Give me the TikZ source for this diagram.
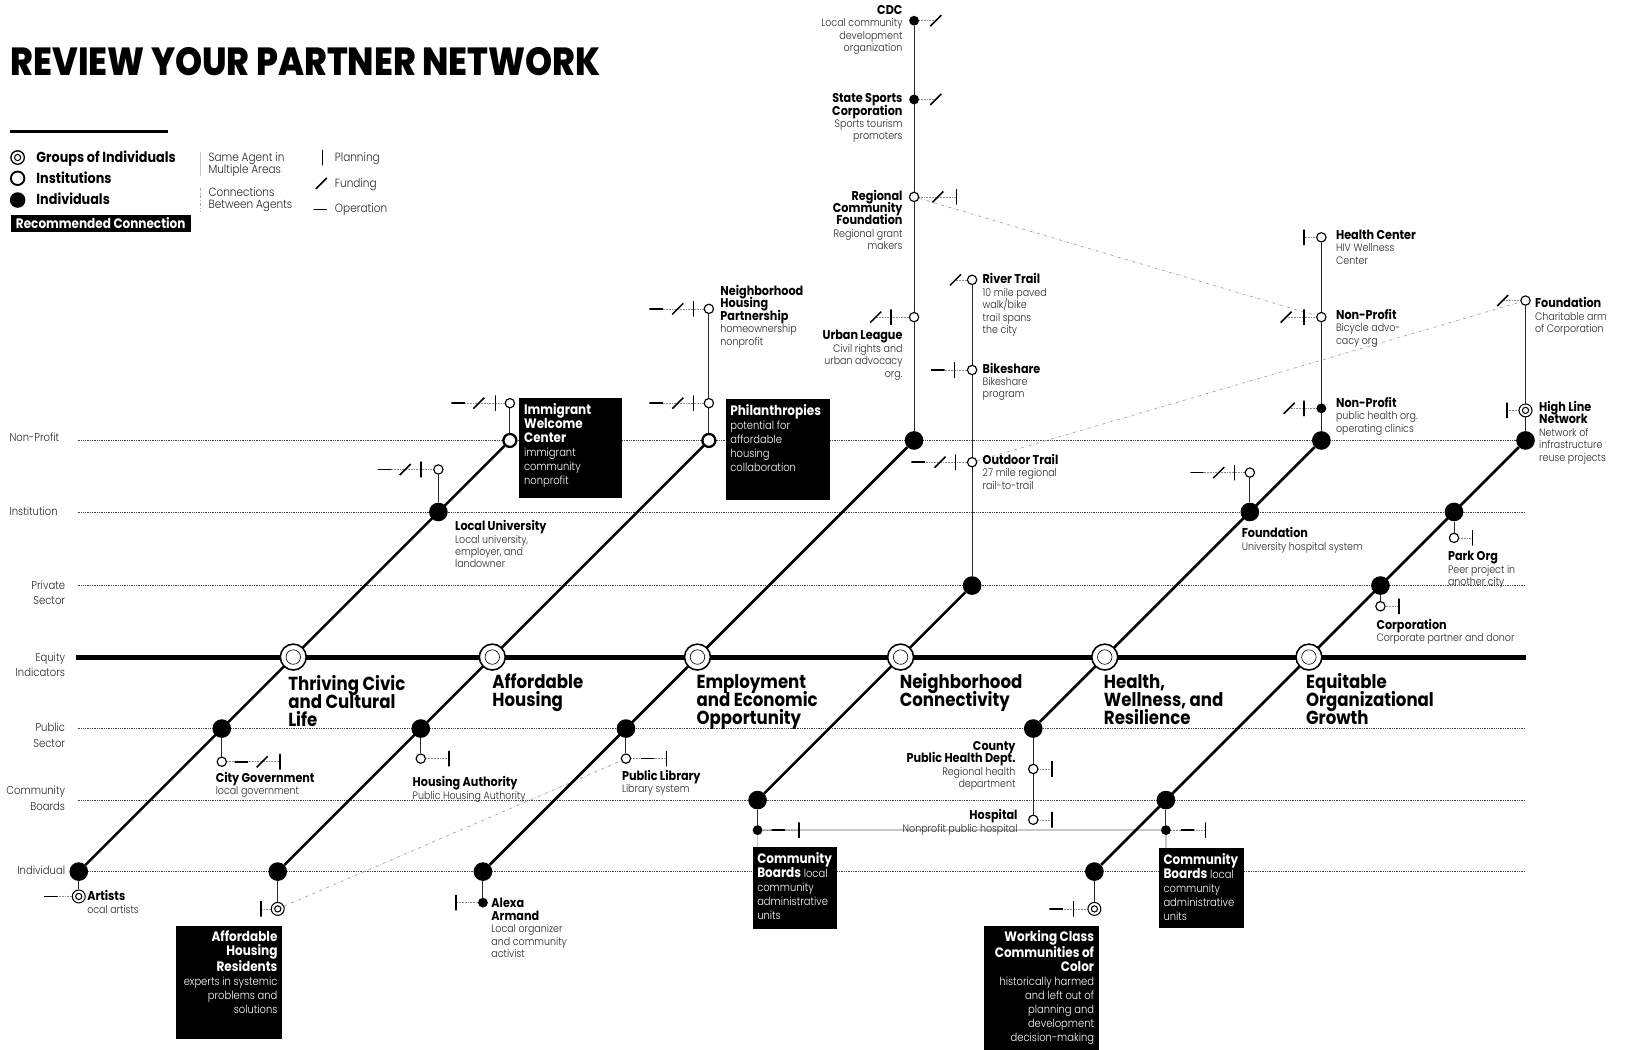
\documentclass[tikz,border=0pt]{standalone}
\usepackage{fontspec}
\IfFontExistsTF{Poppins Light}%          % graisse fine si disponible
  {\setmainfont{Poppins Light}[FakeStretch=0.88,BoldFont=Poppins Bold]}
  {\setmainfont{Poppins}[FakeStretch=0.88]}
\IfFontExistsTF{Poppins ExtraBold}%      % titre plus gras
  {\newfontfamily\titlefont{Poppins ExtraBold}[FakeStretch=0.88]}
  {\newcommand{\titlefont}{\bfseries}}
\usepackage{tikz}
\usetikzlibrary{calc,                      % Calculs de coordonnées
           positioning}
\pgfdeclarelayer{background}
\pgfsetlayers{background,main}
\setlength{\lineskiplimit}{-100pt}       % interlignage fixe

\newcommand{\desc}{\fontsize{10.4}{12}\selectfont\color{black!85}}
\newcommand{\nm}[1]{{\fontsize{12.3}{12}\selectfont\bfseries\color{black}#1}}
\newcommand{\hubfont}{\fontsize{18.2}{17.5}\selectfont\bfseries}
\newcommand{\rowfont}{\fontsize{11}{15}\selectfont}
\newcommand{\boxfont}{\fontsize{10.9}{13.5}\selectfont}
\newcommand{\bh}[1]{{\fontsize{13.2}{13.5}\selectfont\bfseries #1}}
\newcommand{\legfont}{\fontsize{11.5}{11.5}\selectfont\color{black!85}}

\tikzset{
  mainnode/.style={circle,fill=black,inner sep=0pt,minimum size=18pt},
  bigopen/.style={circle,draw=black,fill=white,line width=2.2pt,inner sep=0pt,minimum size=12.5pt},
  inst/.style={circle,draw=black,fill=white,line width=1.1pt,inner sep=0pt,minimum size=9pt},
  indiv/.style={circle,fill=black,inner sep=0pt,minimum size=9.5pt},
  grp/.style={circle,draw=black,fill=white,line width=1pt,inner sep=0pt,minimum size=12.5pt,
    path picture={\draw[line width=1pt] (path picture bounding box.center) circle (3pt);}},
  hub/.style={circle,draw=black,fill=white,line width=1.5pt,inner sep=0pt,minimum size=25pt,
    path picture={\draw[line width=0.6pt] (path picture bounding box.center) circle (7pt);}},
  plansign/.style={rectangle,draw=black,line width=1.5pt,inner sep=0pt,minimum width=0pt,minimum height=15pt},
  opsign/.style={rectangle,draw=black,line width=1.5pt,inner sep=0pt,minimum width=13pt,minimum height=0pt},
  fundsign/.style={opsign,minimum width=15pt,rotate=45},
  bone/.style={line width=2.5pt},
  stem/.style={line width=1pt,black!85},
  spine/.style={line width=4.8pt},
  rowline/.style={densely dotted,line width=0.7pt,black!75},
  tickline/.style={densely dotted,line width=0.5pt,black!45},
  link/.style={dash dot,line width=0.7pt,black!35},
  sameline/.style={line width=1.3pt,black!22},
  lbl/.style={inner sep=0pt,align=left,font=\desc},
  lblr/.style={inner sep=0pt,align=right,font=\desc},
  hubtxt/.style={inner sep=0pt,align=left,font=\hubfont},
  rowtxt/.style={inner sep=0pt,font=\rowfont,text=black!85},
  recbox/.style={fill=black,text=white,inner xsep=4.5pt,inner ysep=5pt,font=\boxfont},
}

\begin{document}
\begin{tikzpicture}[x=1pt,y=-1pt]
\useasboundingbox (0,0) rectangle (1568,1013);
\node[anchor=base west,inner sep=0pt,font=\fontsize{37.8}{37.8}\selectfont\titlefont] (title) at (10,73) {REVIEW YOUR PARTNER NETWORK};
\draw[line width=3.5pt] (10,127) -- (162,127);
\node[grp,minimum size=13pt,line width=1.3pt] (lgGrp) at (17,152) {};
\node[inst,minimum size=13pt,line width=1.8pt] (lgInst) at (17,172) {};
\node[mainnode,minimum size=15pt] (lgInd) at (17,193) {};
\node[anchor=base west,inner sep=0pt,font=\fontsize{14}{14}\selectfont\bfseries] (lgGrpT) at (35,157) {Groups of Individuals};
\node[anchor=base west,inner sep=0pt,font=\fontsize{14}{14}\selectfont\bfseries] (lgInstT) at (35,177) {Institutions};
\node[anchor=base west,inner sep=0pt,font=\fontsize{14}{14}\selectfont\bfseries] (lgIndT) at (35,197.5) {Individuals};
\node[recbox,anchor=west,minimum width=174pt,minimum height=17pt,inner ysep=0pt,font=\fontsize{13.2}{13.2}\selectfont\bfseries] (lgRec) at (10,215.5) {Recommended Connection};
\draw[sameline,line width=1pt] (193,147) -- (193,170);
\draw[link] (193,181) -- (193,204);
\node[lbl,anchor=base west,font=\legfont] (lgSame) at (201,167.5) {Same Agent in\\Multiple Areas};
\node[lbl,anchor=base west,font=\legfont] (lgConn) at (201,201.5) {Connections\\Between Agents};
\node[plansign] (lgPlan) at (311,152) {};
\node[fundsign] (lgFund) at (310,177) {};
\node[opsign] (lgOp) at (309,202) {};
\node[lbl,anchor=base west,font=\legfont] (lgPlanT) at (323,155.5) {Planning};
\node[lbl,anchor=base west,font=\legfont] (lgFundT) at (323,180.5) {Funding};
\node[lbl,anchor=base west,font=\legfont] (lgOpT) at (323,205.5) {Operation};

\node[rowtxt,anchor=base west] (rNp) at (9,426) {Non-Profit};
\node[rowtxt,anchor=base west] (rInst) at (9,497) {Institution};
\node[rowtxt,anchor=base east,align=right] (rPriv) at (63,583.5) {Private\\Sector};
\node[rowtxt,anchor=base east,align=right] (rEq) at (63,653) {Equity\\Indicators};
\node[rowtxt,anchor=base east,align=right] (rPub) at (63,721) {Public\\Sector};
\node[rowtxt,anchor=base east,align=right] (rCb) at (63,782) {Community\\Boards};
\node[rowtxt,anchor=base east] (rInd) at (63,844) {Individual};

\node[mainnode] (civInd) at (76,841) {};
\node[mainnode] (civPub) at (214,703) {};
\node[hub] (civHub) at (283,634) {};
\node[mainnode] (civInst) at (423,494) {};
\node[bigopen] (civNp) at (492,425) {};
\node[mainnode] (houInd) at (268,841) {};
\node[mainnode] (houPub) at (406,703) {};
\node[hub] (houHub) at (475,634) {};
\node[bigopen] (houNp) at (684,425) {};
\node[mainnode] (empInd) at (466,841) {};
\node[mainnode] (empPub) at (604,703) {};
\node[hub] (empHub) at (673,634) {};
\node[mainnode] (empNp) at (882,425) {};
\node[mainnode] (conCb) at (731,772) {};
\node[hub] (conHub) at (869,634) {};
\node[mainnode] (conPriv) at (938,565) {};
\node[mainnode] (heaPub) at (997,703) {};
\node[hub] (heaHub) at (1066,634) {};
\node[mainnode] (heaInst) at (1206,494) {};
\node[mainnode] (heaNp) at (1275,425) {};
\node[mainnode] (groInd) at (1056,841) {};
\node[mainnode] (groCb) at (1125,772) {};
\node[hub] (groHub) at (1263,634) {};
\node[mainnode] (groPriv) at (1332,565) {};
\node[mainnode] (groInst) at (1403,494) {};
\node[mainnode] (groNp) at (1472,425) {};

\node[hubtxt,anchor=base west] (civT) at (278,701) {Thriving Civic\\and Cultural\\Life};
\node[hubtxt,anchor=base west] (houT) at (475,681.5) {Affordable\\Housing};
\node[hubtxt,anchor=base west] (empT) at (672,699) {Employment\\and Economic\\Opportunity};
\node[hubtxt,anchor=base west] (conT) at (868,681.5) {Neighborhood\\Connectivity};
\node[hubtxt,anchor=base west] (heaT) at (1065,699) {Health,\\Wellness, and\\Resilience};
\node[hubtxt,anchor=base west] (groT) at (1260,699) {Equitable\\Organizational\\Growth};

\node[inst] (imm) at (492,389) {};
\node[inst] (univ) at (423,453) {};
\node[inst] (cityg) at (214,735) {};
\node[grp] (art) at (76,865) {};
\node[inst] (nhp) at (684,298) {};
\node[inst] (phil) at (684,389) {};
\node[inst] (hauth) at (406,732) {};
\node[grp] (ahr) at (268,877) {};
\node[indiv] (cdc) at (882,20) {};
\node[indiv] (ssc) at (882,96) {};
\node[inst] (rcf) at (882,190) {};
\node[inst] (ul) at (882,306) {};
\node[inst] (plib) at (604,732) {};
\node[indiv] (alexa) at (466,871) {};
\node[inst] (rt) at (938,270) {};
\node[inst] (bs) at (938,357) {};
\node[inst] (ot) at (938,446) {};
\node[indiv] (cb1) at (731,801) {};
\node[inst] (hc) at (1275,229) {};
\node[inst] (bike) at (1275,306) {};
\node[indiv] (phealth) at (1275,394) {};
\node[inst] (ufound) at (1206,456) {};
\node[inst] (county) at (997,742) {};
\node[inst] (hosp) at (997,791) {};
\node[inst] (cfound) at (1472,290) {};
\node[grp] (hline) at (1472,396) {};
\node[inst] (park) at (1403,519) {};
\node[inst] (corp) at (1332,585) {};
\node[indiv] (cb2) at (1125,801) {};
\node[grp] (wcc) at (1056,877) {};

\node[plansign] (immP) at (478,389) {};
\node[fundsign] (immF) at (462,389) {};
\node[opsign] (immO) at (442,389) {};
\node[plansign] (univP) at (406,453) {};
\node[fundsign] (univF) at (391,453) {};
\node[opsign] (univO) at (371,453) {};
\node[opsign] (cgO) at (233,735) {};
\node[fundsign] (cgF) at (253,735) {};
\node[plansign] (cgP) at (270,735) {};
\node[opsign] (artO) at (49,865) {};
\node[plansign] (nhpP) at (669,298) {};
\node[fundsign] (nhpF) at (654,298) {};
\node[opsign] (nhpO) at (633,298) {};
\node[plansign] (philP) at (669,389) {};
\node[fundsign] (philF) at (654,389) {};
\node[opsign] (philO) at (633,389) {};
\node[plansign] (haP) at (433,732) {};
\node[plansign] (ahrP) at (252,877) {};
\node[fundsign] (cdcF) at (903,20) {};
\node[fundsign] (sscF) at (903,96) {};
\node[fundsign] (rcfF) at (905,190) {};
\node[plansign] (rcfP) at (923,190) {};
\node[plansign] (ulP) at (860,306) {};
\node[fundsign] (ulF) at (845,306) {};
\node[opsign] (plO) at (625,732) {};
\node[plansign] (plP) at (643,732) {};
\node[plansign] (alP) at (440,871) {};
\node[fundsign] (rtF) at (922,270) {};
\node[plansign] (bsP) at (921,357) {};
\node[opsign] (bsO) at (905,357) {};
\node[plansign] (otP) at (922,446) {};
\node[fundsign] (otF) at (907,446) {};
\node[opsign] (otO) at (886,446) {};
\node[opsign] (cb1O) at (751,801) {};
\node[plansign] (cb1P) at (771,801) {};
\node[plansign] (hcP) at (1258,229) {};
\node[plansign] (bikeP) at (1258,306) {};
\node[fundsign] (bikeF) at (1241,306) {};
\node[plansign] (phP) at (1258,394) {};
\node[fundsign] (phF) at (1244,394) {};
\node[plansign] (ufP) at (1191,456) {};
\node[fundsign] (ufF) at (1176,456) {};
\node[opsign] (ufO) at (1155,456) {};
\node[plansign] (coP) at (1015,742) {};
\node[plansign] (hoP) at (1015,791) {};
\node[fundsign] (cfF) at (1450,290) {};
\node[plansign] (hlP) at (1454,396) {};
\node[plansign] (pkP) at (1421,519) {};
\node[plansign] (crP) at (1350,585) {};
\node[opsign] (cb2O) at (1146,801) {};
\node[plansign] (cb2P) at (1163,801) {};
\node[plansign] (wcP) at (1036,877) {};
\node[opsign] (wcO) at (1019,877) {};

\node[lbl,anchor=base west] (univL) at (439,548) {\nm{Local University}\\Local university,\\employer, and\\landowner};
\node[lbl,anchor=base west] (cgL) at (208,767) {\nm{City Government}\\local government};
\node[lbl,anchor=base west] (artL) at (84,881) {\nm{Artists}\\ocal artists};
\node[lbl,anchor=base west] (nhpL) at (695,333) {\nm{Neighborhood}\\\nm{Housing}\\\nm{Partnership}\\homeownership\\nonprofit};
\node[lbl,anchor=base west] (haL) at (398,771) {\nm{Housing Authority}\\Public Housing Authority};
\node[lblr,anchor=base east] (cdcL) at (871,50) {\nm{CDC}\\Local community\\development\\organization};
\node[lblr,anchor=base east] (sscL) at (871,135) {\nm{State Sports}\\\nm{Corporation}\\Sports tourism\\promoters};
\node[lblr,anchor=base east] (rcfL) at (871,241) {\nm{Regional}\\\nm{Community}\\\nm{Foundation}\\Regional grant\\makers};
\node[lblr,anchor=base east] (ulL) at (871,364) {\nm{Urban League}\\Civil rights and\\urban advocacy\\org.};
\node[lbl,anchor=base west] (plL) at (600,765) {\nm{Public Library}\\Library system};
\node[lbl,anchor=base west] (alL) at (474,924) {\nm{Alexa}\\\nm{Armand}\\Local organizer\\and community\\activist};
\node[lbl,anchor=base west] (rtL) at (948,322) {\nm{River Trail}\\10 mile paved\\walk/bike\\trail spans\\the city};
\node[lbl,anchor=base west] (bsL) at (948,384) {\nm{Bikeshare}\\Bikeshare\\program};
\node[lbl,anchor=base west] (otL) at (948,472) {\nm{Outdoor Trail}\\27 mile regional\\rail-to-trail};
\node[lbl,anchor=base west] (hcL) at (1289,255) {\nm{Health Center}\\HIV Wellness\\Center};
\node[lbl,anchor=base west] (bikeL) at (1289,332) {\nm{Non-Profit}\\Bicycle advo-\\cacy org};
\node[lbl,anchor=base west] (phL) at (1289,417) {\nm{Non-Profit}\\public health org.\\operating clinics};
\node[lbl,anchor=base west] (ufL) at (1198,531) {\nm{Foundation}\\University hospital system};
\node[lblr,anchor=base east] (coL) at (980,760) {\nm{County}\\\nm{Public Health Dept.}\\Regional health\\department};
\node[lblr,anchor=base east] (hoL) at (982,803) {\nm{Hospital}\\Nonprofit public hospital};
\node[lbl,anchor=base west] (cfL) at (1481,321) {\nm{Foundation}\\Charitable arm\\of Corporation};
\node[lbl,anchor=base west] (hlL) at (1485,445) {\nm{High Line}\\\nm{Network}\\Network of\\infrastructure\\reuse projects};
\node[lbl,anchor=base west] (pkL) at (1397,565) {\nm{Park Org}\\Peer project in\\another city};
\node[lbl,anchor=base west] (crL) at (1328,619) {\nm{Corporation}\\Corporate partner and donor};

\node[recbox,anchor=north west] (immbox) at (501,384) {\parbox[t][86pt][t]{90pt}{\raggedright\bh{Immigrant}\\\bh{Welcome}\\\bh{Center}\\immigrant\\community\\nonprofit}};
\node[recbox,anchor=north west] (philbox) at (700,385) {\parbox[t][87pt][t]{92pt}{\raggedright\bh{Philanthropies}\\potential for\\affordable\\housing\\collaboration}};
\node[recbox,anchor=north west] (ahrbox) at (170,893) {\parbox[t][99pt][t]{93pt}{\raggedleft\bh{Affordable}\\\bh{Housing}\\\bh{Residents}\\experts in systemic\\problems and\\solutions}};
\node[recbox,anchor=north west] (cb1box) at (726,817) {\parbox[t][69pt][t]{72pt}{\raggedright\bh{Community}\\\bh{Boards} local\\community\\administrative\\units}};
\node[recbox,anchor=north west] (cb2box) at (1118,818) {\parbox[t][67pt][t]{73pt}{\raggedright\bh{Community}\\\bh{Boards} local\\community\\administrative\\units}};
\node[recbox,anchor=north west] (wccbox) at (949,893) {\parbox[t][115pt][t]{102pt}{\raggedleft\bh{Working Class}\\\bh{Communities of}\\\bh{Color}\\historically harmed\\and left out of\\planning and\\development\\decision-making}};

\begin{pgfonlayer}{background}
\foreach \y in {425,494,565,703,772,841} \draw[rowline] (75,\y) -- (1472,\y);
\draw[spine] (73,634) -- (1472,634);
\draw[link] (ahr) -- (plib) (rcf) -- (bike) (ot) -- (cfound);
\draw[sameline] (cb1) -- (cb2) (cb1) -- (cb1 |- cb1box.north) (cb2) -- (cb2 |- cb2box.north);
\draw[bone] (civInd) -- (civNp) (houInd) -- (houNp) (empInd) -- (empNp) (conCb) -- (conPriv) (heaPub) -- (heaNp) (groInd) -- (groNp);
\draw[stem] (civNp) -- (imm) (civInst) -- (univ) (civPub) -- (cityg) (civInd) -- (art)
  (houNp) -- (nhp) (houPub) -- (hauth) (houInd) -- (ahr)
  (empNp) -- (cdc) (empPub) -- (plib) (empInd) -- (alexa)
  (conPriv) -- (rt) (conCb) -- (cb1)
  (heaNp) -- (hc) (heaInst) -- (ufound) (heaPub) -- (hosp)
  (groNp) -- (cfound) (groInst) -- (park) (groPriv) -- (corp) (groCb) -- (cb2) (groInd) -- (wcc);
\draw[tickline] (imm) -- (immO.center) (univ) -- (univO.center) (cityg) -- (cgP.center) (art) -- (artO.center)
  (nhp) -- (nhpO.center) (phil) -- (philO.center) (hauth) -- (haP.center) (ahr) -- (ahrP.center)
  (cdc) -- (cdcF.center) (ssc) -- (sscF.center) (rcf) -- (rcfP.center) (ul) -- (ulF.center)
  (plib) -- (plP.center) (alexa) -- (alP.center)
  (rt) -- (rtF.center) (bs) -- (bsO.center) (ot) -- (otO.center) (cb1) -- (cb1P.center)
  (hc) -- (hcP.center) (bike) -- (bikeF.center) (phealth) -- (phF.center) (ufound) -- (ufO.center)
  (county) -- (coP.center) (hosp) -- (hoP.center)
  (cfound) -- (cfF.center) (hline) -- (hlP.center) (park) -- (pkP.center) (corp) -- (crP.center)
  (cb2) -- (cb2P.center) (wcc) -- (wcO.center);
\end{pgfonlayer}
\end{tikzpicture}
\end{document}
